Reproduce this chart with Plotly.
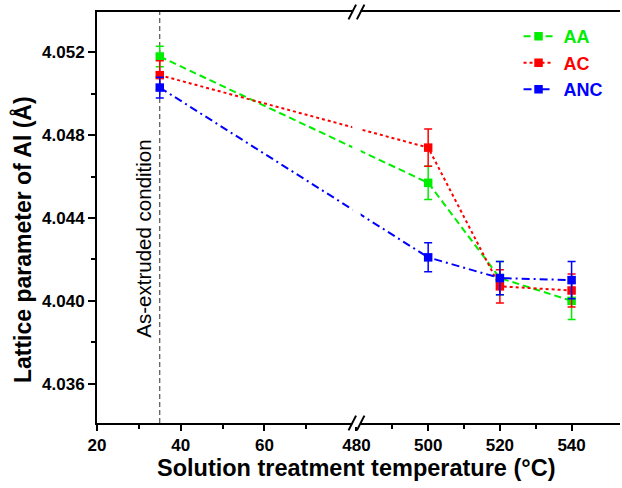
import plotly.graph_objects as go

# ---------------- data ----------------
temps = [35, 500, 520, 540]
aa = [4.0518, 4.0457, 4.0411, 4.0400]
aa_err = [0.0005, 0.0008, 0.0008, 0.0009]
ac = [4.0509, 4.0474, 4.0407, 4.0405]
ac_err = [0.0007, 0.0009, 0.0008, 0.0008]
anc = [4.0503, 4.0421, 4.0411, 4.0410]
anc_err = [0.0005, 0.0007, 0.0008, 0.0009]

series_names = ["AA", "AC", "ANC"]
x_major_ticks = [20, 40, 60, 480, 500, 520, 540]
x_minor_ticks = [30, 50, 70, 490, 510, 530]
y_major_ticks = [4.036, 4.040, 4.044, 4.048, 4.052]
as_extruded_temp = 35

# ---------------- broken x scale ----------------
X_MIN, BREAK_LO, BREAK_HI, X_MAX = 20, 82, 480, 553.5
RIGHT_SCALE = 3.59 / 4.19   # right segment is compressed relative to left


def bx(v):
    return v if v <= BREAK_LO else BREAK_LO + (v - BREAK_HI) * RIGHT_SCALE


colors = {"AA": "#00ee00", "AC": "#ff0000", "ANC": "#0000ff"}
dashes = {"AA": "7px,4px", "AC": "dot", "ANC": "8px,4px,2px,4px"}
values = {"AA": (aa, aa_err), "AC": (ac, ac_err), "ANC": (anc, anc_err)}

fig = go.Figure()
for name in series_names:
    y, e = values[name]
    c = colors[name]
    fig.add_trace(go.Scatter(
        x=[bx(t) for t in temps], y=y,
        mode="lines+markers",
        name=f"<span style='color:{c}'>&nbsp;{name}</span>",
        line=dict(color=c, width=2, dash=dashes[name]),
        marker=dict(symbol="square", size=8.5, color=c),
        error_y=dict(type="data", array=e, visible=True, color=c,
                     thickness=1.5, width=4),
    ))

font_family = "Liberation Sans, Arial, sans-serif"

fig.update_layout(
    width=622, height=488,
    margin=dict(l=97, r=2, t=12, b=65),
    plot_bgcolor="white", paper_bgcolor="white",
    font=dict(family=font_family, color="black"),
    showlegend=True,
    legend=dict(x=0.806, y=0.985, xanchor="left", yanchor="top",
                bgcolor="rgba(0,0,0,0)", borderwidth=0,
                font=dict(size=18, family=font_family, weight="bold"),
                tracegroupgap=2),
    xaxis=dict(
        range=[bx(X_MIN), bx(X_MAX)],
        tickmode="array",
        tickvals=[bx(v) for v in x_major_ticks],
        ticktext=[str(v) for v in x_major_ticks],
        ticks="outside", ticklen=6, tickwidth=2, tickcolor="black",
        minor=dict(tickmode="array", tickvals=[bx(v) for v in x_minor_ticks],
                   ticks="outside", ticklen=4, tickwidth=2, tickcolor="black"),
        showline=True, linewidth=2, linecolor="black", mirror=True,
        showgrid=False, zeroline=False,
        tickfont=dict(size=17, family=font_family, weight="bold"),
    ),
    yaxis=dict(
        range=[4.0341, 4.05395],
        tickmode="array",
        tickvals=y_major_ticks,
        ticktext=[f"{v:.3f}" for v in y_major_ticks],
        ticks="outside", ticklen=7, tickwidth=2, tickcolor="black",
        minor=dict(dtick=0.002, tick0=4.034, ticks="outside", ticklen=4,
                   tickwidth=2, tickcolor="black"),
        showline=True, linewidth=2, linecolor="black",
        showgrid=False, zeroline=False,
        tickfont=dict(size=17, family=font_family, weight="bold"),
    ),
)

# vertical reference line for as-extruded condition
fig.add_shape(type="line", xref="x", yref="paper",
              x0=bx(as_extruded_temp), x1=bx(as_extruded_temp), y0=0, y1=1,
              line=dict(color="#333333", width=1, dash="5px,3px"), layer="below")
fig.add_annotation(text="As-extruded condition", xref="x", yref="paper",
                   x=bx(as_extruded_temp), y=0.448, xshift=-16, xanchor="center",
                   yanchor="middle", textangle=-90, showarrow=False,
                   font=dict(size=20.5, family=font_family, color="black"))

# axis break: white gap + slashes
gap_half = 1.0
fig.add_shape(type="rect", xref="x", yref="paper",
              x0=BREAK_LO - gap_half, x1=BREAK_LO + gap_half, y0=-0.01, y1=1.01,
              fillcolor="white", line=dict(width=0), layer="above")
for yp in (0, 1):
    for dx in (-1.0, 1.0):
        fig.add_shape(type="line", xref="x", yref="paper",
                      x0=BREAK_LO + dx - 0.9, x1=BREAK_LO + dx + 0.9,
                      y0=yp - 0.018, y1=yp + 0.018,
                      line=dict(color="black", width=2), layer="above")

# axis titles
fig.add_annotation(text="Lattice parameter of Al (Å)", xref="paper", yref="paper",
                   x=0, y=0.445, xshift=-75, xanchor="center", yanchor="middle",
                   textangle=-90, showarrow=False,
                   font=dict(size=23, family=font_family, weight="bold"))
fig.add_annotation(text="Solution treatment temperature (°C)", xref="paper", yref="paper",
                   x=0.497, y=0, yshift=-30, xanchor="center", yanchor="top",
                   showarrow=False,
                   font=dict(size=23.5, family=font_family, weight="bold"))

fig.write_html("out.html", config={"displayModeBar": False},
               post_script="document.body.style.margin='0';")
